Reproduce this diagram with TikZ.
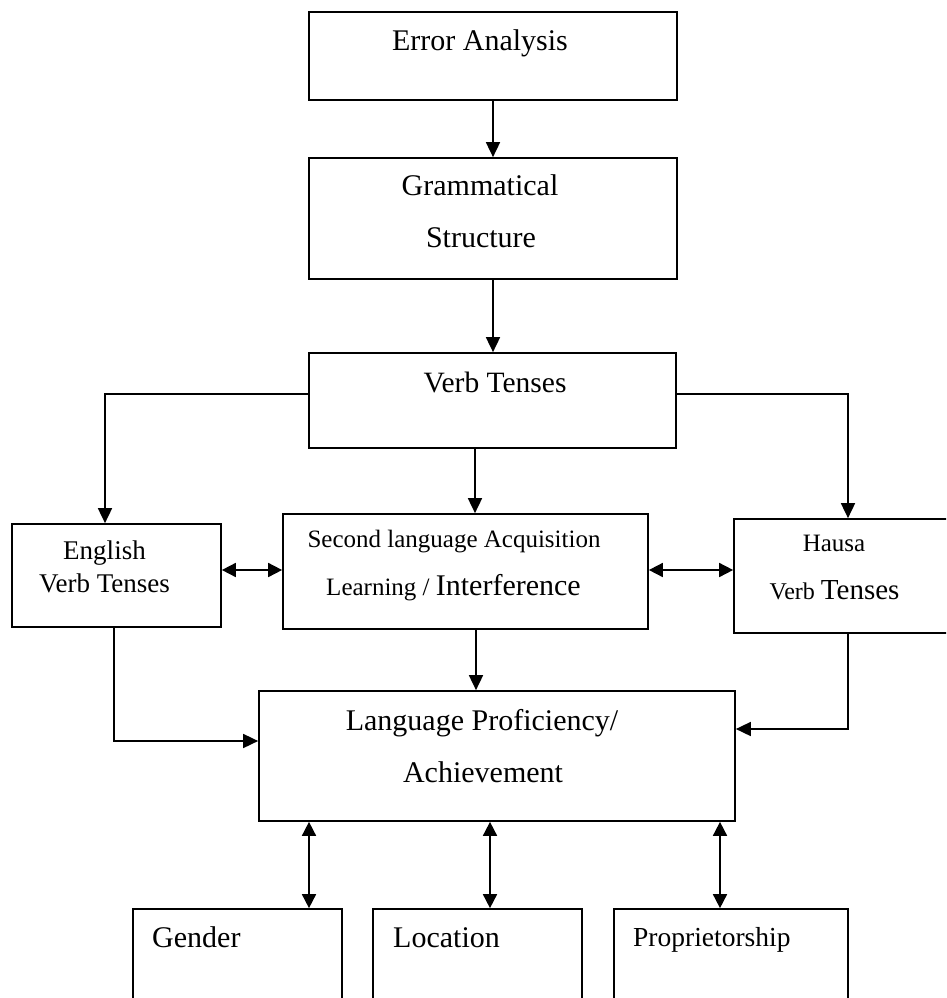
\documentclass[tikz,border=0pt]{standalone}
\usepackage{fontspec}
\setmainfont{Liberation Serif}
\usetikzlibrary{arrows.meta}
\newcommand{\fs}[1]{\fontsize{#1}{#1}\selectfont}
\begin{document}
\begin{tikzpicture}[x=1pt,y=-1pt,
  box/.style={draw=black, line width=1.7pt, inner sep=0pt, minimum width=#1},
  txt/.style={inner sep=0pt, anchor=base},
  ltxt/.style={inner sep=0pt, anchor=base west},
  arr/.style={line width=1.7pt, -{Triangle[length=15pt,width=14pt]}},
  dbl/.style={line width=1.7pt, {Triangle[length=14pt,width=14pt]}-{Triangle[length=14pt,width=14pt]}}]
\useasboundingbox (0,0) rectangle (946,998);
\clip (0,0) rectangle (946,998);
\fill[white] (0,0) rectangle (946,998);
% boxes
\node[box=368pt, minimum height=88pt] (EA) at (493,56) {};
\node[box=368pt, minimum height=121pt] (GS) at (493,218.5) {};
\node[box=367pt, minimum height=95pt] (VT) at (492.5,400.5) {};
\node[box=209pt, minimum height=103pt] (EN) at (116.5,575.5) {};
\node[box=365pt, minimum height=115pt] (SL) at (465.5,571.5) {};
\node[box=228pt, minimum height=114pt] (HA) at (848,576) {};
\node[box=476pt, minimum height=130pt] (LP) at (497,756) {};
\node[box=209pt, minimum height=101pt] (GE) at (237.5,959.5) {};
\node[box=209pt, minimum height=101pt] (LO) at (477.5,959.5) {};
\node[box=234pt, minimum height=101pt] (PR) at (731,959.5) {};
% texts
\node[txt] (tEA) at (480,51) {\fs{30}Error Analysis};
\node[txt] (tGS1) at (480,195) {\fs{30}Grammatical};
\node[txt] (tGS2) at (481,247) {\fs{30}Structure};
\node[txt] (tVT) at (495,392) {\fs{29.5}Verb Tenses};
\node[txt] (tEN1) at (104.5,559) {\fs{27}English};
\node[txt] (tEN2) at (104.5,592) {\fs{27}Verb Tenses};
\node[txt] (tSL1) at (454,547) {\fs{25}Second language Acquisition};
\node[txt] (tSL2) at (453.5,595) {\fs{25}Learning / \fs{30}Interference};
\node[txt] (tHA1) at (834,551) {\fs{25}Hausa};
\node[txt] (tHA2) at (834.5,599) {\fs{24}Verb \fs{29}Tenses};
\node[txt] (tLP1) at (482,730) {\fs{30}Language Proficiency/};
\node[txt] (tLP2) at (483,782) {\fs{30}Achievement};
\node[ltxt] (tGE) at (152,947) {\fs{30}Gender};
\node[ltxt] (tLO) at (393,947) {\fs{30}Location};
\node[ltxt] (tPR) at (633,946) {\fs{27.5}Proprietorship};
% connectors
\draw[arr] (EA.south) -- (EA.south |- GS.north);
\draw[arr] (GS.south) -- (GS.south |- VT.north);
\draw[arr] ([xshift=-17.5pt]VT.south) -- ([xshift=-17.5pt]VT.south |- SL.north);
\draw[arr] ([yshift=6.5pt]VT.west) -| ([xshift=-11.5pt]EN.north);
\draw[arr] ([yshift=6.5pt]VT.east) -| (HA.north);
\draw[dbl] ([yshift=5.5pt]EN.east) -- ([yshift=5.5pt]EN.east -| SL.west);
\draw[dbl] ([yshift=1.5pt]SL.east) -- ([yshift=1.5pt]SL.east -| HA.west);
\draw[arr] ([xshift=10.5pt]SL.south) -- ([xshift=10.5pt]SL.south |- LP.north);
\draw[arr] ([xshift=-2.5pt]EN.south) |- ([yshift=15pt]LP.west);
\draw[arr] (HA.south) |- ([yshift=27pt]LP.east);
\draw[dbl] ([xshift=71.5pt]GE.north |- LP.south) -- ([xshift=71.5pt]GE.north);
\draw[dbl] ([xshift=12.5pt]LO.north |- LP.south) -- ([xshift=12.5pt]LO.north);
\draw[dbl] ([xshift=-11pt]PR.north |- LP.south) -- ([xshift=-11pt]PR.north);
\end{tikzpicture}
\end{document}
